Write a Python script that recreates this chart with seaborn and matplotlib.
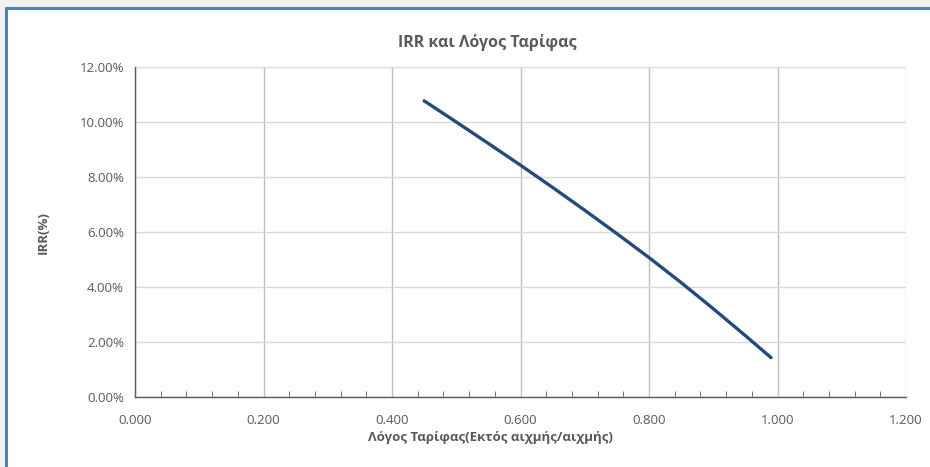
import matplotlib
matplotlib.use("Agg")
import matplotlib.pyplot as plt
import numpy as np
import pandas as pd
import seaborn as sns
from matplotlib.ticker import FuncFormatter, MultipleLocator
from matplotlib.patches import Rectangle
from matplotlib.lines import Line2D

# tariff ratio (off-peak / peak) and IRR in %
tariff_ratio = [0.45, 0.50, 0.55, 0.60, 0.65, 0.70, 0.75, 0.80, 0.85, 0.90, 0.95, 0.99]
irr_pct = [10.77, 10.00, 9.22, 8.43, 7.62, 6.79, 5.94, 5.07, 4.16, 3.21, 2.23, 1.43]

title = "IRR και Λόγος Ταρίφας"
x_label = "Λόγος Ταρίφας(Εκτός αιχμής/αιχμής)"
y_label = "IRR(%)"

sns.set_style("white")
plt.rcParams["font.family"] = ["Open Sans", "DejaVu Sans"]

df = pd.DataFrame({"ratio": tariff_ratio, "irr": irr_pct})

fig = plt.figure(figsize=(9.3, 4.67), dpi=100)
ax = fig.add_axes([0.1452, 0.1499, 0.829, 0.7066])

sns.lineplot(data=df, x="ratio", y="irr", ax=ax, color="#254a7c", linewidth=2.4,
             solid_capstyle="round", solid_joinstyle="round")

ax.set_xlim(0, 1.2)
ax.set_ylim(0, 12)
ax.xaxis.set_major_locator(MultipleLocator(0.2))
ax.xaxis.set_minor_locator(MultipleLocator(0.04))
ax.yaxis.set_major_locator(MultipleLocator(2))
ax.xaxis.set_major_formatter(FuncFormatter(lambda v, p: f"{v:.3f}"))
ax.yaxis.set_major_formatter(FuncFormatter(lambda v, p: f"{v:.2f}%"))

ax.grid(axis="y", color="#d9d9d9", linewidth=1.0)
ax.grid(axis="x", color="#bfbfbf", linewidth=1.0)
ax.set_axisbelow(True)

for s in ["top", "right"]:
    ax.spines[s].set_visible(False)
for s in ["left", "bottom"]:
    ax.spines[s].set_color("#595959")
    ax.spines[s].set_linewidth(1.0)

ax.tick_params(axis="x", which="minor", direction="in", length=4, color="#595959", bottom=True)
ax.tick_params(axis="x", which="major", direction="in", length=4, color="#595959",
               labelsize=9.5, labelcolor="#595959", pad=12)
ax.tick_params(axis="y", which="major", length=0, labelsize=9.5, labelcolor="#595959", pad=8)

ax.set_xlabel("")
ax.set_ylabel("")
fig.text(0.527, 0.063, x_label, ha="center", va="center", fontsize=9.5,
         fontweight="bold", color="#595959")
fig.text(0.047, 0.503, y_label, ha="center", va="center", rotation=90, fontsize=9.5,
         fontweight="bold", color="#595959")
fig.text(0.524, 0.91, title, ha="center", va="center", fontsize=11.5,
         fontweight="bold", color="#595959")

# background band and blue border (top and left)
fig.patches.append(Rectangle((0, 1 - 7 / 467), 1, 7 / 467, transform=fig.transFigure,
                             facecolor="#f2f2f2", edgecolor="none", zorder=0))
fig.patches.append(Rectangle((0, 0), 5 / 930, 1, transform=fig.transFigure,
                             facecolor="#f2f2f2", edgecolor="none", zorder=0))
fig.lines.append(Line2D([6 / 930, 1], [1 - 7.5 / 467, 1 - 7.5 / 467], transform=fig.transFigure,
                        color="#4f81bd", linewidth=2.2))
fig.lines.append(Line2D([6 / 930, 6 / 930], [0, 1 - 7.5 / 467], transform=fig.transFigure,
                        color="#4f81bd", linewidth=2.2))

fig.savefig("out.png", dpi=100)
